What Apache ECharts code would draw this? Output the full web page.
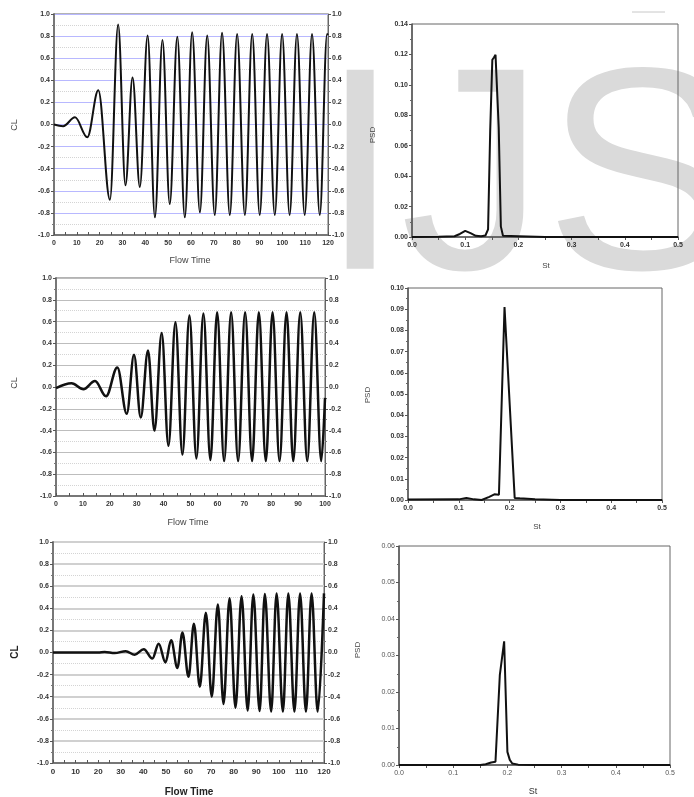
<!DOCTYPE html>
<html>
<head>
<meta charset="utf-8">
<script src="https://cdn.jsdelivr.net/npm/echarts@6/dist/echarts.min.js"></script>
<style>
html,body{margin:0;padding:0;background:#fff;}
#chart{width:694px;height:797px;}
</style>
</head>
<body>
<div id="chart"></div>
<script>
// ---- Data ----
// Panel 1: CL vs Flow Time (peaks / troughs)
var cl1Time = [0, 4, 9.2, 14.6, 19.4, 24.5, 28.1, 31.3, 34.4, 37.6, 41, 44.2, 47.5, 50.7, 54, 57.3, 60.5, 63.9, 67.1, 70.4, 73.6, 77, 80.2, 83.6, 86.8, 90.1, 93.3, 96.7, 99.9, 103.2, 106.4, 109.8, 113, 116.4, 119.6, 120];
var cl1Value = [0, -0.015, 0.065, -0.115, 0.31, -0.68, 0.905, -0.55, 0.425, -0.565, 0.805, -0.84, 0.765, -0.72, 0.795, -0.84, 0.835, -0.795, 0.805, -0.82, 0.83, -0.82, 0.82, -0.82, 0.82, -0.82, 0.82, -0.82, 0.82, -0.82, 0.82, -0.82, 0.82, -0.82, 0.82, 0.81];
// Panel 2: PSD vs St
var psd1St = [0, 0.05, 0.08, 0.09, 0.1, 0.11, 0.12, 0.13, 0.138, 0.143, 0.147, 0.151, 0.154, 0.157, 0.163, 0.167, 0.171, 0.2, 0.25, 0.5];
var psd1Value = [0, 0.0002, 0.0005, 0.002, 0.004, 0.0025, 0.0008, 0.0005, 0.001, 0.005, 0.07, 0.1165, 0.118, 0.1197, 0.072, 0.007, 0.0008, 0.0005, 0, 0];
// Panel 3: CL vs Flow Time
var cl2Time = [0, 5.8, 10.2, 14.5, 18.6, 22.8, 26.3, 29, 31.5, 34.2, 36.6, 39.3, 41.8, 44.4, 47, 49.6, 52.2, 54.8, 57.4, 59.9, 62.5, 65.1, 67.7, 70.3, 72.9, 75.4, 78, 80.5, 83.1, 85.7, 88.2, 90.8, 93.4, 96, 98.6, 100];
var cl2Value = [-0.01, 0.035, -0.02, 0.055, -0.085, 0.18, -0.245, 0.295, -0.28, 0.335, -0.40, 0.495, -0.54, 0.595, -0.62, 0.655, -0.655, 0.675, -0.67, 0.685, -0.68, 0.685, -0.68, 0.685, -0.68, 0.685, -0.68, 0.685, -0.68, 0.685, -0.68, 0.685, -0.68, 0.685, -0.68, -0.1];
// Panel 4: PSD vs St
var psd2St = [0, 0.1, 0.115, 0.13, 0.145, 0.16, 0.17, 0.179, 0.19, 0.21, 0.22, 0.25, 0.3, 0.5];
var psd2Value = [0.0002, 0.0003, 0.001, 0.0003, 0, 0.0015, 0.0027, 0.0025, 0.091, 0.001, 0.0008, 0.0003, 0, 0];
// Panel 5: CL vs Flow Time
var cl3Time = [0, 10, 20, 22.9, 27.3, 32.2, 36.2, 40.2, 44, 46.8, 49.8, 52.3, 55.1, 57.3, 60, 62.4, 65, 67.7, 70.3, 73, 75.5, 78.2, 80.8, 83.5, 86.2, 88.7, 91.5, 93.8, 96.6, 99, 101.8, 104.2, 106.9, 109.4, 112, 114.5, 117.2, 120];
var cl3Value = [0, 0, 0, 0.005, -0.005, 0.012, -0.02, 0.03, -0.055, 0.08, -0.09, 0.11, -0.14, 0.18, -0.22, 0.26, -0.31, 0.36, -0.40, 0.435, -0.465, 0.49, -0.50, 0.51, -0.525, 0.525, -0.53, 0.53, -0.535, 0.535, -0.535, 0.535, -0.535, 0.535, -0.535, 0.535, -0.535, 0.535];
// Panel 6: PSD vs St
var psd3St = [0, 0.15, 0.16, 0.17, 0.178, 0.186, 0.194, 0.2, 0.2044, 0.209, 0.22, 0.25, 0.5];
var psd3Value = [0, 0, 0.0002, 0.0007, 0.0009, 0.0246, 0.0339, 0.0036, 0.0014, 0.0004, 0.0001, 0, 0];

// tick settings
var clRange = [-1, 1], clStep = 0.2;
var psd1Range = [0, 0.14], psd1Step = 0.02;
var psd2Range = [0, 0.10], psd2Step = 0.01;
var psd3Range = [0, 0.06], psd3Step = 0.01;
var stRange = [0, 0.5], stStep = 0.1;

function pairs(xs, ys) { return xs.map(function (x, i) { return [x, ys[i]]; }); }
var FONT = '"Liberation Sans", Arial, sans-serif';

var grids = [
  {left: 54, top: 14, width: 274, height: 221},
  {left: 412, top: 24, width: 266, height: 213},
  {left: 56, top: 278, width: 269, height: 218},
  {left: 408, top: 288, width: 254, height: 212},
  {left: 53, top: 542, width: 271, height: 221},
  {left: 399, top: 546, width: 271, height: 219}
].map(function (g) { return Object.assign({show: true, borderColor: '#666', borderWidth: 1, backgroundColor: 'transparent'}, g); });

function fmt(d) { return function (v) { var s = v.toFixed(d); if (/^-0\.0+$/.test(s)) s = s.slice(1); return s; }; }

function labelStyle(bold, color) {
  return {fontFamily: FONT, fontSize: 7, fontWeight: bold ? 'bold' : 'normal', color: color || '#333', margin: 4};
}

function xAxisCL(gi, max, bold) {
  return {type: 'value', gridIndex: gi, min: 0, max: max, interval: 10,
    axisLine: {show: true, onZero: false, lineStyle: {color: '#777', width: 2}},
    axisTick: {show: true, inside: true, length: 3, lineStyle: {color: '#555'}},
    minorTick: {show: true, splitNumber: 2, length: 3, lineStyle: {color: '#555'}},
    splitLine: {show: false},
    axisLabel: Object.assign(labelStyle(true), {fontSize: bold ? 8 : 7, margin: 5})};
}
function xAxisSt(gi, light) {
  return {type: 'value', gridIndex: gi, min: stRange[0], max: stRange[1], interval: stStep,
    axisLine: {show: true, onZero: false, lineStyle: {color: '#555', width: 1.5}},
    axisTick: {show: true, inside: false, length: 3, lineStyle: {color: '#555'}},
    minorTick: {show: true, splitNumber: 2, length: 3, lineStyle: {color: '#555'}},
    splitLine: {show: false},
    axisLabel: Object.assign(labelStyle(!light, light ? '#555' : '#333'), {formatter: fmt(1), margin: 5})};
}
function yAxisCL(gi, pos, majorColor, majorWidth) {
  return {type: 'value', gridIndex: gi, position: pos, min: clRange[0], max: clRange[1], interval: clStep,
    axisLine: {show: true, onZero: false, lineStyle: {color: pos === 'left' ? '#777' : '#666', width: pos === 'left' ? 2 : 1}},
    axisTick: {show: true, length: 3, lineStyle: {color: '#555'}},
    minorTick: {show: true, splitNumber: 2, length: 2, lineStyle: {color: '#777'}},
    splitLine: {show: pos === 'left', lineStyle: {color: majorColor, width: majorWidth}},
    minorSplitLine: {show: pos === 'left', lineStyle: {color: '#d4d4d4', type: 'dotted', width: 1}},
    axisLabel: Object.assign(labelStyle(true), {formatter: fmt(1)})};
}
function yAxisPSD(gi, range, step, light) {
  return {type: 'value', gridIndex: gi, min: range[0], max: range[1], interval: step,
    axisLine: {show: true, onZero: false, lineStyle: {color: '#555', width: 1.5}},
    axisTick: {show: true, length: 3, lineStyle: {color: '#555'}},
    minorTick: {show: true, splitNumber: 2, length: 2, lineStyle: {color: '#666'}},
    splitLine: {show: false},
    axisLabel: Object.assign(labelStyle(!light, light ? '#555' : '#333'), {formatter: fmt(2)})};
}

var xAxes = [xAxisCL(0, 120), xAxisSt(1), xAxisCL(2, 100), xAxisSt(3), xAxisCL(4, 120, true), xAxisSt(5, true)];
var yAxes = [
  yAxisCL(0, 'left', '#b8b8ff', 1),
  yAxisPSD(1, psd1Range, psd1Step),
  yAxisCL(2, 'left', '#bdbdbd', 1),
  yAxisPSD(3, psd2Range, psd2Step),
  yAxisCL(4, 'left', '#d0d0d0', 2),
  yAxisPSD(5, psd3Range, psd3Step, true),
  yAxisCL(0, 'right'),
  yAxisCL(2, 'right'),
  yAxisCL(4, 'right')
];

function clSeries(i, xs, ys, w) {
  return {type: 'line', xAxisIndex: i, yAxisIndex: i, data: pairs(xs, ys), showSymbol: false,
    smooth: 0.36, smoothMonotone: 'x', lineStyle: {color: '#111', width: w}, z: 5, animation: false};
}
function psdSeries(i, xs, ys, w) {
  return {type: 'line', xAxisIndex: i, yAxisIndex: i, data: pairs(xs, ys), showSymbol: false,
    lineStyle: {color: '#111', width: w}, z: 5, animation: false};
}

function title(text, x, y, opts) {
  opts = opts || {};
  return {type: 'text', x: x, y: y, rotation: opts.rot ? Math.PI / 2 : 0, z: 20,
    style: {text: text, fill: opts.color || '#444', align: 'center', verticalAlign: 'middle',
      font: (opts.bold ? 'bold ' : '') + (opts.size || 9) + 'px ' + FONT}};
}

var option = {
  animation: false,
  backgroundColor: '#fff',
  grid: grids,
  xAxis: xAxes,
  yAxis: yAxes,
  series: [
    clSeries(0, cl1Time, cl1Value, 2),
    psdSeries(1, psd1St, psd1Value, 2),
    clSeries(2, cl2Time, cl2Value, 2.5),
    psdSeries(3, psd2St, psd2Value, 2),
    clSeries(4, cl3Time, cl3Value, 2.5),
    psdSeries(5, psd3St, psd3Value, 2)
  ],
  graphic: [
    {type: 'text', x: 320, y: 189, z: -10, silent: true,
      style: {text: 'IJS', fill: '#dadada', align: 'left', verticalAlign: 'middle', font: '289px ' + FONT}},
    {type: 'line', z: 1, shape: {x1: 632, y1: 12, x2: 665, y2: 12}, style: {stroke: '#c8c8c8', lineWidth: 1}},
    title('CL', 15, 125, {rot: true, size: 9}),
    title('Flow Time', 190, 261, {size: 9}),
    title('PSD', 373, 135, {rot: true, size: 8}),
    title('St', 546, 266, {size: 8}),
    title('CL', 15, 383, {rot: true, size: 9}),
    title('Flow Time', 188, 523, {size: 9}),
    title('PSD', 368, 395, {rot: true, size: 8}),
    title('St', 537, 527, {size: 8}),
    title('CL', 15, 652, {rot: true, size: 10, bold: true, color: '#222'}),
    title('Flow Time', 189, 792, {size: 10, bold: true, color: '#222'}),
    title('PSD', 358, 650, {rot: true, size: 8}),
    title('St', 533, 792, {size: 9, color: '#333'})
  ]
};

var chart = echarts.init(document.getElementById('chart'), null, {renderer: 'canvas'});
chart.setOption(option);
</script>
</body>
</html>
